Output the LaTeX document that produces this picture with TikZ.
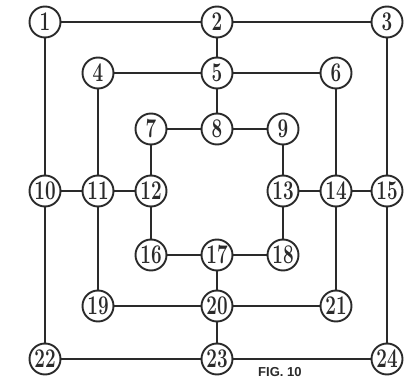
\documentclass[tikz,border=0pt]{standalone}
\usepackage{fontspec}
\newfontfamily\figfont{Liberation Sans}
\definecolor{ink}{HTML}{2A2A2A}
\newcommand{\numtxt}[1]{\scalebox{0.7}[1]{\bfseries #1}}
\begin{document}
\begin{tikzpicture}[x=1pt,y=-1pt,
  pt/.style={circle,draw=ink,line width=1.9pt,fill=white,minimum size=31pt,inner sep=0pt,
    font=\fontsize{27}{27}\selectfont,text=ink},
  ln/.style={draw=ink,line width=1.9pt}]
\useasboundingbox (0,0) rectangle (404,379);
\begin{scope}
\clip (0,0) rectangle (404,379);
\def\xa{45}\def\xb{98}\def\xc{151}\def\xd{217}\def\xe{283}\def\xf{336}\def\xg{387}
\def\ya{22}\def\yb{73}\def\yc{129}\def\yd{191}\def\ye{255}\def\yf{306}\def\yg{359}
\node[pt] (n1) at (\xa,\ya) {\numtxt{1}};
\node[pt] (n2) at (\xd,\ya) {\numtxt{2}};
\node[pt] (n3) at (\xg,\ya) {\numtxt{3}};
\node[pt] (n4) at (\xb,\yb) {\numtxt{4}};
\node[pt] (n5) at (\xd,\yb) {\numtxt{5}};
\node[pt] (n6) at (\xf,\yb) {\numtxt{6}};
\node[pt] (n7) at (\xc,\yc) {\numtxt{7}};
\node[pt] (n8) at (\xd,\yc) {\numtxt{8}};
\node[pt] (n9) at (\xe,\yc) {\numtxt{9}};
\node[pt] (n10) at (\xa,\yd) {\numtxt{10}};
\node[pt] (n11) at (\xb,\yd) {\numtxt{11}};
\node[pt] (n12) at (\xc,\yd) {\numtxt{12}};
\node[pt] (n13) at (\xe,\yd) {\numtxt{13}};
\node[pt] (n14) at (\xf,\yd) {\numtxt{14}};
\node[pt] (n15) at (\xg,\yd) {\numtxt{15}};
\node[pt] (n16) at (\xc,\ye) {\numtxt{16}};
\node[pt] (n17) at (\xd,\ye) {\numtxt{17}};
\node[pt] (n18) at (\xe,\ye) {\numtxt{18}};
\node[pt] (n19) at (\xb,\yf) {\numtxt{19}};
\node[pt] (n20) at (\xd,\yf) {\numtxt{20}};
\node[pt] (n21) at (\xf,\yf) {\numtxt{21}};
\node[pt] (n22) at (\xa,\yg) {\numtxt{22}};
\node[pt] (n23) at (\xd,\yg) {\numtxt{23}};
\node[pt] (n24) at (\xg,\yg) {\numtxt{24}};
\path[ln] (n1)--(n2) (n2)--(n3) (n3)--(n15) (n15)--(n24) (n24)--(n23) (n23)--(n22) (n22)--(n10) (n10)--(n1);
\path[ln] (n4)--(n5) (n5)--(n6) (n6)--(n14) (n14)--(n21) (n21)--(n20) (n20)--(n19) (n19)--(n11) (n11)--(n4);
\path[ln] (n7)--(n8) (n8)--(n9) (n9)--(n13) (n13)--(n18) (n18)--(n17) (n17)--(n16) (n16)--(n12) (n12)--(n7);
\path[ln] (n2)--(n5) (n5)--(n8) (n10)--(n11) (n11)--(n12) (n13)--(n14) (n14)--(n15) (n17)--(n20) (n20)--(n23);
\node[anchor=base west,inner sep=0pt,text=ink,font=\figfont\bfseries\fontsize{13}{13}\selectfont] (fig) at (258,376) {FIG. 10};
\end{scope}
\end{tikzpicture}
\end{document}
